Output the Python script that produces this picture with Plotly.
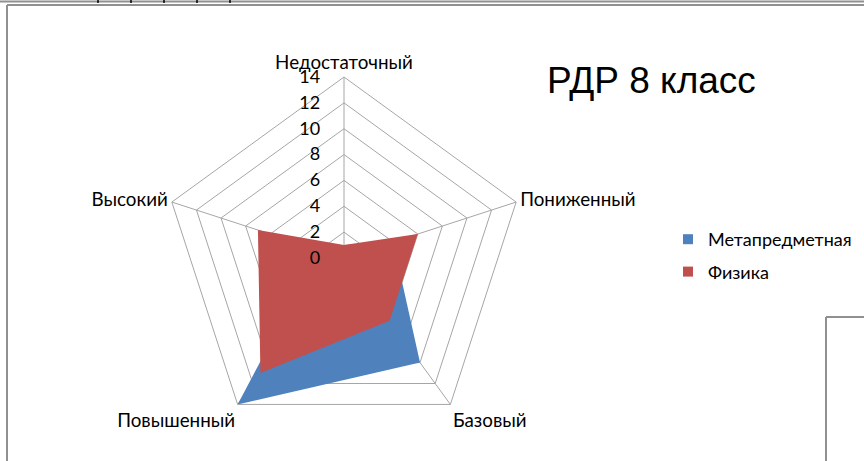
import plotly.graph_objects as go

categories = ["Недостаточный", "Пониженный", "Базовый", "Повышенный", "Высокий"]
meta_values = [1, 4, 10, 14, 2]
phys_values = [1, 6, 6, 11, 7]
series_names = ["Метапредметная", "Физика"]
series_colors = ["#4F81BD", "#C0504D"]
radial_ticks = [0, 2, 4, 6, 8, 10, 12, 14]
title_text = "РДР 8 класс"

W, H = 864, 461
def px(x):
    return x / W
def py(y):
    return 1 - y / H

fig = go.Figure()
for vals, name, col in zip([meta_values, phys_values], series_names, series_colors):
    fig.add_trace(go.Scatterpolar(
        r=vals + vals[:1], theta=categories + categories[:1],
        name=name, fill="toself", mode="lines",
        line=dict(width=0, color=col), fillcolor=col, showlegend=False))
# legend entries (square markers)
for i, (name, col) in enumerate(zip(series_names, series_colors)):
    fig.add_trace(go.Scatterpolar(
        r=[None], theta=[categories[0]], name=name, mode="markers",
        marker=dict(symbol="square", size=10, color=col),
        legendgroup=str(i)))

cx, cy, R = 344, 258, 181
fig.update_layout(
    width=W, height=H,
    margin=dict(l=0, r=0, t=0, b=0),
    paper_bgcolor="white",
    font=dict(family="Lato, Noto Sans, sans-serif", color="#000", size=18),
    polar=dict(
        domain=dict(x=[px(cx - R), px(cx + R)], y=[py(cy + R), py(cy - R)]),
        bgcolor="white",
        gridshape="linear",
        radialaxis=dict(range=[0, 14], tickvals=radial_ticks, angle=90,
                        side="counterclockwise", tickangle=90,
                        showline=False, ticks="outside", ticklen=17,
                        tickcolor="rgba(0,0,0,0)", gridcolor="#A6A6A6",
                        gridwidth=1, tickfont=dict(size=18)),
        angularaxis=dict(direction="clockwise", rotation=90,
                         gridcolor="#A6A6A6", linecolor="#A6A6A6",
                         linewidth=1, ticks="", tickfont=dict(size=18.8)),
    ),
    legend=dict(x=px(668), y=py(221), xanchor="left", yanchor="top",
                font=dict(size=18), traceorder="grouped", tracegroupgap=6,
                itemwidth=30, bgcolor="rgba(0,0,0,0)"),
    annotations=[dict(text=title_text, x=px(651), y=py(80), xref="paper",
                      yref="paper", xanchor="center", yanchor="middle",
                      showarrow=False,
                      font=dict(family="Liberation Sans, Arial", size=37,
                                color="#000"))],
    shapes=[
        dict(type="line", xref="paper", yref="paper", x0=0, x1=1,
             y0=py(1.5), y1=py(1.5), line=dict(color="#909090", width=2)),
        dict(type="line", xref="paper", yref="paper", x0=px(7), x1=1,
             y0=py(5), y1=py(5), line=dict(color="#909090", width=2)),
        dict(type="line", xref="paper", yref="paper", x0=px(7), x1=px(7),
             y0=py(5), y1=0, line=dict(color="#909090", width=2)),
        dict(type="line", xref="paper", yref="paper", x0=px(826), x1=px(826),
             y0=py(317), y1=0, line=dict(color="#909090", width=2)),
        dict(type="line", xref="paper", yref="paper", x0=px(826), x1=1,
             y0=py(317), y1=py(317), line=dict(color="#909090", width=2)),
    ] + [
        dict(type="line", xref="paper", yref="paper", x0=px(x), x1=px(x),
             y0=1, y1=py(3), line=dict(color="#000", width=1.5))
        for x in [98, 131, 164, 197, 230]
    ],
)

fig.write_html("out.html", config={"displayModeBar": False},
               post_script="document.body.style.margin='0';")
